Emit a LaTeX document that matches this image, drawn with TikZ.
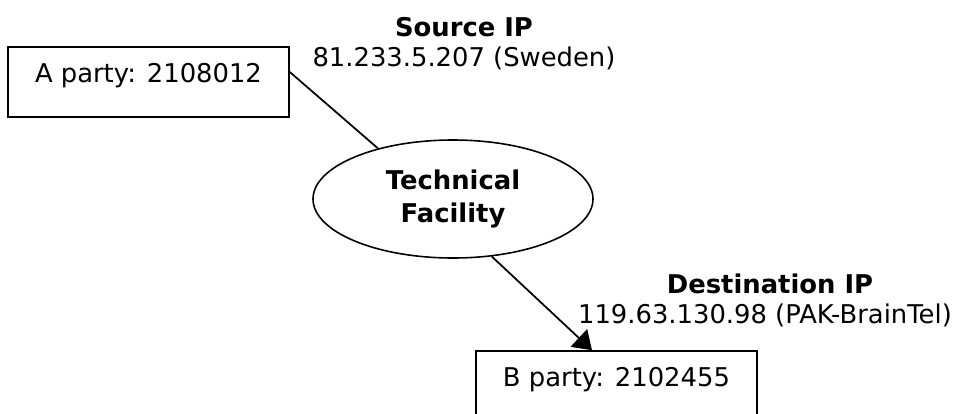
\documentclass[tikz,border=0pt]{standalone}
\usepackage{fontspec}
\setmainfont{DejaVu Sans}
\usepackage{tikz}
\usetikzlibrary{shapes.geometric, arrows.meta, positioning, calc}

\begin{document}
\begin{tikzpicture}[font=\fontsize{14.7}{17}\selectfont,
    party/.style={draw, line width=0.9pt, minimum width=5.62cm, minimum height=1.4cm,
        inner sep=0pt, text height=0.7cm, text depth=0.7cm},
    fac/.style={draw, ellipse, line width=0.9pt, minimum width=5.6cm, minimum height=2.36cm,
        inner sep=0pt, align=center, font=\fontsize{14.7}{17}\selectfont\bfseries},
    hd/.style={anchor=base, font=\fontsize{14.7}{17}\selectfont\bfseries},
    ip/.style={anchor=base},
    link/.style={line width=1pt}
]
    \useasboundingbox (0,0) rectangle (19.3,-8.28);
    \clip (0,0) rectangle (19.3,-8.28);
    \node[party] (a) at (2.97,-1.64) {A party: 2108012};
    \node[party] (b) at (12.33,-7.72) {B party: 2102455};
    \node[fac] (tf) at (9.06,-3.98) {Technical\\[1.5pt]Facility};
    % labels
    \node[hd] (srchd) at (9.28,-0.72) {Source IP};
    \node[ip] (srcip) at (9.28,-1.32) {81.233.5.207 (Sweden)};
    \node[hd] (dsthd) at (15.40,-5.87) {Destination IP};
    \node[ip] (dstip) at (15.30,-6.47) {119.63.130.98 (PAK-BrainTel)};
    % connectors
    \coordinate (aout) at ($(a.east)+(0,0.2)$);
    \coordinate (bin) at ($(b.north)+(-0.49,0)$);
    \draw[link] (aout) -- (tf.146.8);
    \draw[link, -{Triangle[length=0.36cm, width=0.48cm]}] (tf.-56.5) -- (bin);
\end{tikzpicture}
\end{document}
